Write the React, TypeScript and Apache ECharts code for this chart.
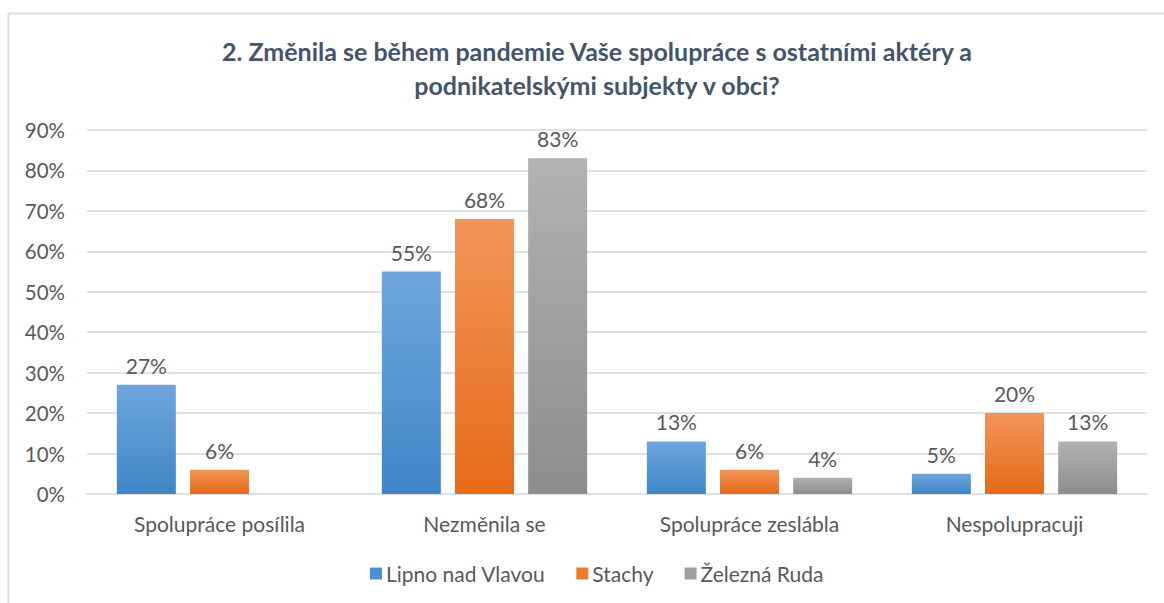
import React, { useEffect, useRef } from "react";
import * as echarts from "echarts";

const titleText = "2. Změnila se během pandemie Vaše spolupráce s ostatními aktéry a\npodnikatelskými subjekty v obci?";
const categories = ["Spolupráce posílila", "Nezměnila se", "Spolupráce zeslábla", "Nespolupracuji"];
const seriesNames = ["Lipno nad Vlavou", "Stachy", "Železná Ruda"];
const lipno = [27, 55, 13, 5];
const stachy = [6, 68, 6, 20];
const zelezna = [null, 83, 4, 13];
const yTicks = [0, 10, 20, 30, 40, 50, 60, 70, 80, 90];

const grads = [
  ["#6ea6dd", "#3f86c8"],
  ["#f39459", "#e56b17"],
  ["#b2b2b2", "#8d8d8d"],
];
const legendColors = ["#4a8fd4", "#ef7a2c", "#9f9f9f"];

export default function App() {
  const ref = useRef<HTMLDivElement>(null);
  useEffect(() => {
    const chart = echarts.init(ref.current!, null, { renderer: "svg" });
    const data = [lipno, stachy, zelezna];
    const font = "Lato, 'Open Sans', sans-serif";
    chart.setOption({
      animation: false,
      backgroundColor: "#ffffff",
      textStyle: { fontFamily: font },
      title: {
        text: titleText,
        left: 592,
        textAlign: "center",
        top: 29,
        textStyle: { fontFamily: font, fontSize: 25, fontWeight: "bold", color: "#44546a", lineHeight: 34 },
      },
      graphic: [
        { type: "line", shape: { x1: 8.5, y1: 13, x2: 8.5, y2: 603 }, style: { stroke: "#d9dde3", lineWidth: 2 } },
        { type: "line", shape: { x1: 8, y1: 13.5, x2: 1164, y2: 13.5 }, style: { stroke: "#d9dde3", lineWidth: 2 } },
      ],
      legend: {
        bottom: 14,
        left: 365,
        itemWidth: 12,
        itemHeight: 12,
        itemGap: 31,
        icon: "rect",
        textStyle: { fontFamily: font, fontSize: 21, color: "#595959", padding: [0, 0, 0, -1] },
        data: seriesNames.map((n, i) => ({ name: n, itemStyle: { color: legendColors[i] } })),
      },
      grid: { left: 87, right: 17, top: 130, bottom: 109, containLabel: false },
      xAxis: {
        type: "category",
        data: categories,
        axisLine: { show: true, lineStyle: { color: "#dde2e8", width: 2 } },
        axisTick: { show: false },
        axisLabel: { fontFamily: font, fontSize: 21, color: "#595959", margin: 19 },
      },
      yAxis: {
        type: "value",
        min: 0,
        max: 90,
        interval: 10,
        axisLine: { show: false },
        axisTick: { show: false },
        splitLine: { lineStyle: { color: "#dde2e8", width: 2 } },
        axisLabel: {
          fontFamily: font,
          fontSize: 20.5,
          color: "#595959",
          margin: 22,
          formatter: (v: number) => (yTicks.includes(v) ? v + "%" : ""),
        },
      },
      series: seriesNames.map((name, i) => ({
        name,
        type: "bar",
        data: data[i],
        barWidth: 59,
        barGap: "24%",
        itemStyle: {
          color: new echarts.graphic.LinearGradient(0, 0, 0, 1, [
            { offset: 0, color: grads[i][0] },
            { offset: 1, color: grads[i][1] },
          ]),
        },
        label: {
          show: true,
          position: "top",
          distance: 9,
          fontFamily: font,
          fontSize: 21,
          color: "#595959",
          formatter: (p: any) => (p.value == null ? "" : p.value + "%"),
        },
      })),
    });
    return () => chart.dispose();
  }, []);
  return <div ref={ref} style={{ position: "absolute", left: 0, top: 0, width: 1164, height: 603 }} />;
}
